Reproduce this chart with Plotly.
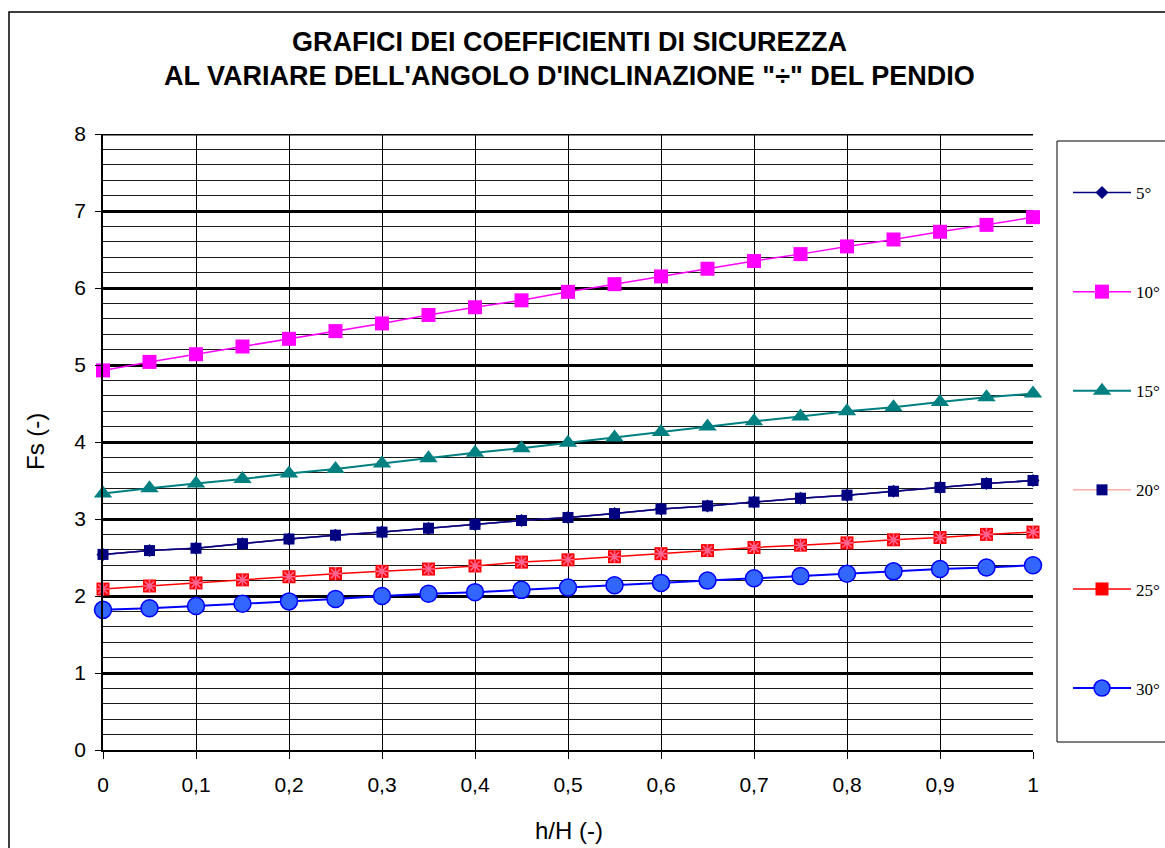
import plotly.graph_objects as go

# h/H ratio sampled every 0.05
h_over_H = [0, 0.05, 0.1, 0.15, 0.2, 0.25, 0.3, 0.35, 0.4, 0.45, 0.5,
            0.55, 0.6, 0.65, 0.7, 0.75, 0.8, 0.85, 0.9, 0.95, 1.0]

# Safety factor Fs for each slope inclination angle
fs_10 = [4.93, 5.04, 5.14, 5.24, 5.34, 5.44, 5.54, 5.65, 5.75, 5.84, 5.95,
         6.05, 6.15, 6.25, 6.35, 6.44, 6.54, 6.63, 6.73, 6.82, 6.92]
fs_15 = [3.33, 3.40, 3.46, 3.52, 3.59, 3.65, 3.72, 3.79, 3.86, 3.92, 3.99,
         4.06, 4.13, 4.20, 4.27, 4.33, 4.40, 4.45, 4.52, 4.58, 4.63]
fs_20 = [2.54, 2.59, 2.62, 2.68, 2.74, 2.79, 2.83, 2.88, 2.93, 2.98, 3.02,
         3.07, 3.13, 3.17, 3.22, 3.27, 3.31, 3.36, 3.41, 3.46, 3.50]
fs_5 = [2.54, 2.59, 2.62, 2.68, 2.74, 2.79, 2.83, 2.88, 2.93, 2.98, 3.02,
        3.07, 3.13, 3.17, 3.22, 3.27, 3.31, 3.36, 3.41, 3.46, 3.50]
fs_25 = [2.09, 2.13, 2.17, 2.21, 2.25, 2.29, 2.32, 2.35, 2.39, 2.44, 2.47,
         2.51, 2.55, 2.59, 2.63, 2.66, 2.69, 2.73, 2.76, 2.80, 2.83]
fs_30 = [1.82, 1.84, 1.87, 1.90, 1.93, 1.96, 2.00, 2.03, 2.05, 2.08, 2.11,
         2.14, 2.17, 2.20, 2.23, 2.26, 2.29, 2.32, 2.35, 2.37, 2.40]

x_ticks = [0, 0.1, 0.2, 0.3, 0.4, 0.5, 0.6, 0.7, 0.8, 0.9, 1.0]
y_ticks = [0, 1, 2, 3, 4, 5, 6, 7, 8]

series_names = ["5°", "10°", "15°", "20°", "25°", "30°"]

fig = go.Figure()

# 5° : navy line with diamonds
fig.add_trace(go.Scatter(
    x=h_over_H, y=fs_5, name=series_names[0], mode="lines+markers",
    line=dict(color="#000080", width=1.5),
    marker=dict(symbol="diamond", size=10, color="#000080"),
    legendgroup="a5", cliponaxis=False))

# 10° : magenta squares
fig.add_trace(go.Scatter(
    x=h_over_H, y=fs_10, name=series_names[1], mode="lines+markers",
    line=dict(color="#FF00FF", width=1.5),
    marker=dict(symbol="square", size=14, color="#FF00FF"),
    legendgroup="a10", cliponaxis=False))

# 15° : teal triangles
fig.add_trace(go.Scatter(
    x=h_over_H, y=fs_15, name=series_names[2], mode="lines+markers",
    line=dict(color="#008080", width=2),
    marker=dict(symbol="triangle-up", size=16, color="#008080"),
    legendgroup="a15", cliponaxis=False))

# 20° : light red line, navy squares
fig.add_trace(go.Scatter(
    x=h_over_H, y=fs_20, name=series_names[3], mode="lines+markers",
    line=dict(color="#FF8080", width=1),
    marker=dict(symbol="square", size=11, color="#000080"),
    legendgroup="a20", cliponaxis=False))

# navy 5° line stays visible over the 20° line
fig.add_trace(go.Scatter(
    x=h_over_H, y=fs_5, mode="lines", showlegend=False, hoverinfo="skip",
    line=dict(color="#000080", width=1.5), cliponaxis=False))

# 25° : red squares with purple star
fig.add_trace(go.Scatter(
    x=h_over_H, y=fs_25, name=series_names[4], mode="lines+markers",
    line=dict(color="#FF0000", width=1.5),
    marker=dict(symbol="square", size=13, color="#FF0000"),
    legendgroup="a25", cliponaxis=False))
fig.add_trace(go.Scatter(
    x=h_over_H, y=fs_25, mode="markers", showlegend=False, hoverinfo="skip",
    marker=dict(symbol="asterisk-open", size=11,
                line=dict(color="#6A2A9A", width=1.6)),
    cliponaxis=False))

# 30° : blue circles
fig.add_trace(go.Scatter(
    x=h_over_H, y=fs_30, name=series_names[5], mode="lines+markers",
    line=dict(color="#0000FF", width=2),
    marker=dict(symbol="circle", size=17, color="#3366FF",
                line=dict(color="#0000FF", width=1.5)),
    legendgroup="a30", cliponaxis=False))

L, R, T, B = 103, 132, 134, 98
W, H = 1165, 848
PW, PH = W - L - R, H - T - B


def px(xp):
    return (xp - L) / PW


def py(yp):
    return (H - B - yp) / PH


fig.update_layout(
    width=W, height=H,
    margin=dict(l=L, r=R, t=T, b=B, pad=0, autoexpand=False),
    paper_bgcolor="white", plot_bgcolor="white",
    separators=",.",
    font=dict(family="Liberation Sans, Arial, sans-serif", color="black"),
    showlegend=True,
    legend=dict(
        x=px(1068), y=py(175), xanchor="left", yanchor="top",
        bgcolor="rgba(0,0,0,0)", borderwidth=0, itemwidth=58,
        font=dict(family="Liberation Serif, Times New Roman, serif", size=17, color="black"),
        tracegroupgap=74, traceorder="grouped",
    ),
    xaxis=dict(
        range=[0, 1], tickmode="array", tickvals=x_ticks,
        showgrid=True, gridcolor="black", gridwidth=1,
        showline=True, linecolor="black", linewidth=1.5,
        ticks="outside", ticklen=7, tickcolor="black",
        tickfont=dict(size=21), ticklabelstandoff=8,
        zeroline=False, fixedrange=True,
    ),
    yaxis=dict(
        range=[0, 8], tickmode="array", tickvals=y_ticks,
        showgrid=True, gridcolor="black", gridwidth=3,
        showline=True, linecolor="black", linewidth=1.5,
        ticks="outside", ticklen=6, tickcolor="black",
        tickfont=dict(size=21), ticklabelstandoff=5,
        zeroline=False, fixedrange=True,
        minor=dict(dtick=0.2, showgrid=True, gridcolor="#1a1a1a", gridwidth=1,
                   ticks=""),
    ),
    shapes=[
        # outer chart frame
        dict(type="rect", xref="paper", yref="paper",
             x0=px(9), x1=px(1180), y0=py(870), y1=py(12),
             line=dict(color="black", width=1.5), layer="below"),
        # legend box
        dict(type="rect", xref="paper", yref="paper",
             x0=px(1057), x1=px(1180), y0=py(742), y1=py(141),
             line=dict(color="black", width=1), layer="below"),
        # heavy line closing the top of the grid
        dict(type="line", xref="paper", yref="y",
             x0=0, x1=1, y0=y_ticks[-1], y1=y_ticks[-1],
             line=dict(color="black", width=3), layer="below"),
    ],
    annotations=[
        dict(text="<b>GRAFICI DEI COEFFICIENTI DI SICUREZZA</b>",
             x=px(569), y=py(42), xref="paper", yref="paper",
             showarrow=False, xanchor="center", yanchor="middle",
             font=dict(size=27)),
        dict(text="<b>AL VARIARE DELL'ANGOLO D'INCLINAZIONE \"÷\" DEL PENDIO</b>",
             x=px(569), y=py(76), xref="paper", yref="paper",
             showarrow=False, xanchor="center", yanchor="middle",
             font=dict(size=27)),
        dict(text="Fs (-)", x=px(35), y=py(442), xref="paper", yref="paper",
             showarrow=False, textangle=-90, xanchor="center", yanchor="middle",
             font=dict(size=24)),
        dict(text="h/H (-)", x=px(569), y=py(830), xref="paper", yref="paper",
             showarrow=False, xanchor="center", yanchor="middle",
             font=dict(size=24)),
    ],
)

fig.write_html("out.html")
